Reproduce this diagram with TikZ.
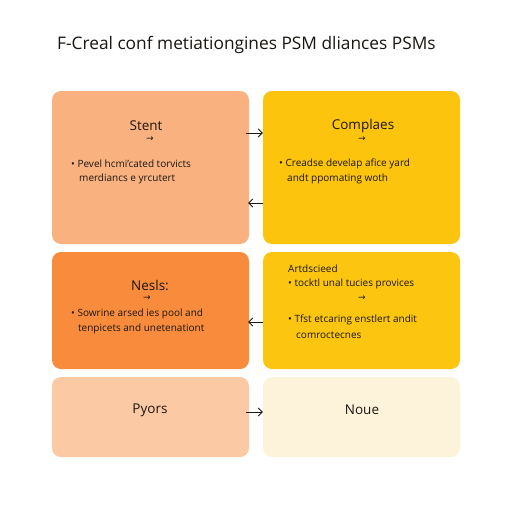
\documentclass[tikz,border=0pt]{standalone}
\usepackage{fontspec}
\setmainfont{Open Sans}
\newfontfamily\arrfont{DejaVu Sans}
\usetikzlibrary{arrows.meta}
\definecolor{peach}{HTML}{F9B27F}
\definecolor{gold}{HTML}{FCC40C}
\definecolor{orng}{HTML}{F98C3C}
\definecolor{gold2}{HTML}{FCC510}
\definecolor{lpeach}{HTML}{FBCAA4}
\definecolor{cream}{HTML}{FDF3DB}
\definecolor{ink}{HTML}{1A1610}
\begin{document}
\begin{tikzpicture}[x=1pt,y=-1pt,
  box/.style={rounded corners=9pt, minimum width=197pt, inner sep=0pt, draw=none},
  head/.style={text=ink, font=\fontsize{13.5}{15}\selectfont, inner sep=0pt},
  body/.style={text=ink, font=\fontsize{10}{12}\selectfont, inner sep=0pt, anchor=west},
  tiny/.style={text=ink, font=\arrfont\fontsize{9}{10}\selectfont, inner sep=0pt},
  arr/.style={draw=ink, line width=0.9pt, -{Straight Barb[length=4pt,width=8pt]}}]
\useasboundingbox[fill=white] (0,0) rectangle (512,512);
\node[text=ink, font=\fontsize{17.3}{19}\selectfont, anchor=west, inner sep=0pt] (title) at (57,45) {F-Creal conf metiationgines PSM dliances PSMs};
% boxes
\node[box, fill=peach, minimum height=153pt] (tl) at (150.5,167.5) {};
\node[box, fill=gold, minimum height=153pt] (tr) at (361.5,167.5) {};
\node[box, fill=orng, minimum height=117pt] (ml) at (150.5,310.5) {};
\node[box, fill=gold2, minimum height=117pt] (mr) at (361.5,310.5) {};
\node[box, fill=lpeach, minimum height=80pt] (bl) at (150.5,417) {};
\node[box, fill=cream, minimum height=80pt] (br) at (361.5,417) {};
% top-left
\node[head] (tlh) at (146,126) {Stent};
\node[tiny] (tla) at (150,139) {→};
\node[body] (tl1) at (71,164) {• Pevel hcmi'cated torvicts};
\node[body] (tl2) at (79,179) {merdiancs e yrcutert};
% top-right
\node[head] (trh) at (363,126) {Complaes};
\node[tiny] (tra) at (362,139) {→};
\node[body] (tr1) at (279,164) {• Creadse develap afice yard};
\node[body] (tr2) at (287,179) {andt ppomating woth};
% middle-left
\node[head] (mlh) at (150,285) {Nesls:};
\node[tiny] (mla) at (147,298) {→};
\node[body] (ml1) at (71,314) {• Sowrine arsed ies pool and};
\node[body] (ml2) at (78,329) {tenpicets and unetenationt};
% middle-right
\node[body] (mrh) at (288,269) {Artdscieed};
\node[body] (mr1) at (288,284) {• tocktl unal tucies provices};
\node[tiny] (mra) at (362,298) {→};
\node[body] (mr2) at (288,320) {• Tfst etcaring enstlert andit};
\node[body] (mr3) at (296,335) {comroctecnes};
% bottom
\node[head] (blh) at (150,410) {Pyors};
\node[head] (brh) at (362,410) {Noue};
% connectors
\draw[arr] ([xshift=-3pt,yshift=34.5pt]tl.east) -- ([yshift=34.5pt]tr.west);
\draw[arr] ([yshift=-35.5pt]tr.west) -- ([xshift=-1pt,yshift=-35.5pt]tl.east);
\draw[arr] ([yshift=-11.5pt]mr.west) -- ([xshift=-1pt,yshift=-11.5pt]ml.east);
\draw[arr] ([xshift=-3pt,yshift=5pt]bl.east) -- ([yshift=5pt]br.west);
\end{tikzpicture}
\end{document}
